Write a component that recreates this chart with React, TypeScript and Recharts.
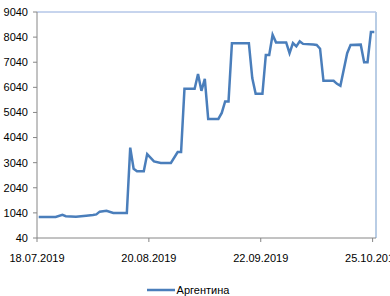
import { LineChart, Line, XAxis, YAxis, ReferenceLine, Legend } from 'recharts';

// Argentina, daily values 18.07.2019 – 25.10.2019
const dates = [
  '18.07.2019', '23.07.2019', '25.07.2019', '26.07.2019', '29.07.2019', '01.08.2019',
  '03.08.2019', '04.08.2019', '05.08.2019', '07.08.2019', '09.08.2019', '13.08.2019',
  '14.08.2019', '15.08.2019', '16.08.2019', '18.08.2019', '19.08.2019', '21.08.2019',
  '23.08.2019', '26.08.2019', '28.08.2019', '29.08.2019', '30.08.2019', '02.09.2019',
  '03.09.2019', '04.09.2019', '05.09.2019', '06.09.2019', '09.09.2019', '10.09.2019',
  '11.09.2019', '12.09.2019', '13.09.2019', '18.09.2019', '19.09.2019', '20.09.2019',
  '22.09.2019', '23.09.2019', '24.09.2019', '25.09.2019', '26.09.2019', '29.09.2019',
  '30.09.2019', '01.10.2019', '02.10.2019', '03.10.2019', '04.10.2019', '07.10.2019',
  '08.10.2019', '09.10.2019', '10.10.2019', '13.10.2019', '14.10.2019', '15.10.2019',
  '17.10.2019', '18.10.2019', '21.10.2019', '22.10.2019', '23.10.2019', '24.10.2019',
  '25.10.2019',
];

const argentina = [
  880, 880, 960, 910, 890, 930,
  960, 980, 1090, 1120, 1040, 1040,
  3640, 2800, 2700, 2700, 3380, 3090,
  3030, 3030, 3460, 3460, 5980, 5980,
  6570, 5900, 6380, 4780, 4780, 5020,
  5480, 5480, 7800, 7800, 6410, 5780,
  5780, 7330, 7330, 8130, 7830, 7830,
  7400, 7800, 7670, 7870, 7770, 7750,
  7730, 7580, 6300, 6300, 6180, 6100,
  7400, 7730, 7740, 7040, 7040, 8240,
  8240,
];

const xTickLabels = ['18.07.2019', '20.08.2019', '22.09.2019', '25.10.2019'];
const yTicks = [40, 1040, 2040, 3040, 4040, 5040, 6040, 7040, 8040, 9040];

const dayIndex = (s: string) => {
  const [d, m, y] = s.split('.').map(Number);
  return Math.round((Date.UTC(y, m - 1, d) - Date.UTC(2019, 6, 18)) / 86400000);
};

// each date sits in the middle of its day slot (Excel date axis)
const data = dates.map((d, i) => ({ day: dayIndex(d) + 0.5, value: argentina[i] }));
const xTicks = xTickLabels.map(dayIndex);
const tickName: Record<number, string> = {};
xTickLabels.forEach((l) => { tickName[dayIndex(l)] = l; });

const font = { fontFamily: 'Liberation Sans, Arial, sans-serif', fontSize: 11, fill: '#000' };

const LegendBox = () => (
  <div style={{ height: 22, display: 'flex', justifyContent: 'center', alignItems: 'flex-end' }}>
    <div style={{ display: 'flex', alignItems: 'center', marginLeft: 0, marginBottom: 0, height: 12 }}>
      <svg width={28} height={6}>
        <line x1={0} y1={3} x2={28} y2={3} stroke="#4A7EBB" strokeWidth={2.5} />
      </svg>
      <span style={{ fontFamily: 'Liberation Sans, Arial, sans-serif', fontSize: 11, color: '#000', marginLeft: 2 }}>
        Аргентина
      </span>
    </div>
  </div>
);

export default function App() {
  return (
    <div style={{ position: 'absolute', left: 0, top: 0, background: '#fff' }}>
      <LineChart width={390} height={296} data={data} margin={{ top: 12, right: 14, bottom: 0, left: 0 }}>
        <XAxis
          dataKey="day"
          type="number"
          domain={[0, 100]}
          ticks={xTicks}
          interval={0}
          tickFormatter={(v) => tickName[v] ?? ''}
          stroke="#868686"
          tickSize={4}
          tickMargin={12}
          height={36}
          tick={font}
        />
        <YAxis
          domain={[40, 9040]}
          ticks={yTicks}
          interval={0}
          stroke="#868686"
          tickSize={4}
          tickMargin={5}
          width={37}
          tick={font}
        />
        <ReferenceLine y={9040} stroke="#8FAADC" strokeWidth={1} ifOverflow="extendDomain" />
        <ReferenceLine x={100} stroke="#B9CDE5" strokeWidth={2} />
        <Legend verticalAlign="bottom" content={<LegendBox />} />
        <Line
          type="linear"
          dataKey="value"
          stroke="#4A7EBB"
          strokeWidth={2.5}
          dot={false}
          isAnimationActive={false}
          name="Аргентина"
        />
      </LineChart>
    </div>
  );
}
